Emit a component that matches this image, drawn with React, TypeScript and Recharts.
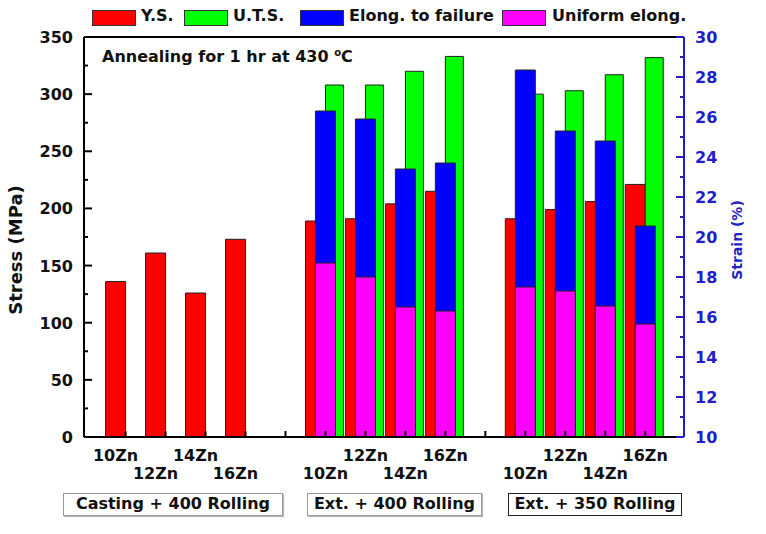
import { ComposedChart, Bar, XAxis, YAxis, ReferenceLine } from "recharts";

// x positions of the bars (5 and 10 are the empty gaps between groups)
const positions = [1, 2, 3, 4, 6, 7, 8, 9, 11, 12, 13, 14];
const alloys = [
  "10Zn", "12Zn", "14Zn", "16Zn",
  "10Zn", "12Zn", "14Zn", "16Zn",
  "10Zn", "12Zn", "14Zn", "16Zn"
];
const processes = ["Casting + 400 Rolling", "Ext. + 400 Rolling", "Ext. + 350 Rolling"];

// stress (MPa)
const yieldStress = [136, 161, 126, 173, 189, 191, 204, 215, 191, 199, 206, 221];
const tensileStress = [null, null, null, null, 308, 308, 320, 333, 300, 303, 317, 332];
// strain (%)
const elongFailure = [null, null, null, null, 26.3, 25.9, 23.4, 23.7, 28.35, 25.3, 24.8, 20.55];
const uniformElong = [null, null, null, null, 18.7, 18.0, 16.5, 16.3, 17.5, 17.3, 16.55, 15.65];

const xTicks = [1, 2, 3, 4, 5, 6, 7, 8, 9, 10, 11, 12, 13, 14];
const stressTicks = [0, 25, 50, 75, 100, 125, 150, 175, 200, 225, 250, 275, 300, 325, 350];
const strainTicks = [10, 11, 12, 13, 14, 15, 16, 17, 18, 19, 20, 21, 22, 23, 24, 25, 26, 27, 28, 29, 30];

const seriesNames = ["Y.S.", "U.T.S.", "Elong. to failure", "Uniform elong."];
const COLORS = ["#ff0000", "#00ff00", "#0000ff", "#ff00ff"];

const FONT = "'DejaVu Sans', sans-serif";
const BLUE = "#2020c4";

const rows = positions.map((pos, i) => ({
  pos,
  ys: yieldStress[i],
  uts: tensileStress[i],
  ef: elongFailure[i],
  ue: uniformElong[i]
}));

function XTick({ x, y, payload }: any) {
  const i = positions.indexOf(payload.value);
  let label = null;
  if (i >= 0) {
    const group = Math.floor(i / 4);
    const k = i % 4;
    const row = group === 0 ? k % 2 : 1 - (k % 2);
    const dx = group === 0 ? -10 : 0;
    label = (
      <text
        x={x + dx}
        y={y + (row === 0 ? 24 : 42)}
        textAnchor="middle"
        fontFamily={FONT}
        fontWeight="bold"
        fontSize={16}
        fill="#111"
      >
        {alloys[i]}
      </text>
    );
  }
  return (
    <g>
      <line x1={x} x2={x} y1={y} y2={y - 6} stroke="#000" strokeWidth={2} />
      {label}
    </g>
  );
}

function StressTick({ x, y, payload }: any) {
  const major = payload.value % 50 === 0;
  return (
    <g>
      <line x1={x} x2={x + (major ? 8 : 4)} y1={y} y2={y} stroke="#000" strokeWidth={2} />
      {major && (
        <text x={x - 11} y={y + 6} textAnchor="end" fontFamily={FONT} fontWeight="bold" fontSize={16} fill="#111">
          {payload.value}
        </text>
      )}
    </g>
  );
}

function StrainTick({ x, y, payload }: any) {
  const major = payload.value % 2 === 0;
  return (
    <g>
      <line x1={x} x2={x - (major ? 8 : 4)} y1={y} y2={y} stroke={BLUE} strokeWidth={2} />
      {major && (
        <text x={x + 11} y={y + 6} textAnchor="start" fontFamily={FONT} fontWeight="bold" fontSize={16} fill={BLUE}>
          {payload.value}
        </text>
      )}
    </g>
  );
}

const legendPos = [
  { swatch: 92, text: 141 },
  { swatch: 184, text: 233 },
  { swatch: 300, text: 349 },
  { swatch: 502, text: 552 }
];

const boxes = [
  { left: 63, width: 220, border: "#999" },
  { left: 307, width: 175, border: "#999" },
  { left: 508, width: 174, border: "#222" }
];

export default function App() {
  return (
    <div style={{ position: "absolute", left: 0, top: 0, width: 766, height: 534, background: "#fff", fontFamily: FONT }}>
      <ComposedChart
        width={766}
        height={534}
        data={rows}
        margin={{ top: 37, right: 42, bottom: 67, left: 24 }}
      >
        <XAxis
          xAxisId="main"
          type="number"
          dataKey="pos"
          domain={[-0.04, 14.97]}
          allowDataOverflow
          ticks={xTicks}
          interval={0}
          height={30}
          tickSize={0}
          tickMargin={0}
          tick={<XTick />}
          axisLine={{ stroke: "#000", strokeWidth: 2 }}
          tickLine={false}
        />
        <XAxis xAxisId="ys" type="number" dataKey="pos" domain={[0.21, 15.22]} allowDataOverflow hide height={0} />
        <XAxis xAxisId="uts" type="number" dataKey="pos" domain={[-0.265, 14.745]} allowDataOverflow hide height={0} />
        <XAxis xAxisId="el" type="number" dataKey="pos" domain={[-0.04, 14.97]} allowDataOverflow hide height={0} />
        <XAxis xAxisId="ue" type="number" dataKey="pos" domain={[-0.04, 14.97]} allowDataOverflow hide height={0} />

        <YAxis
          yAxisId="stress"
          domain={[0, 350]}
          ticks={stressTicks}
          interval={0}
          width={60}
          tickSize={0}
          tickMargin={0}
          tick={<StressTick />}
          tickLine={false}
          axisLine={{ stroke: "#000", strokeWidth: 2 }}
        />
        <YAxis
          yAxisId="strain"
          orientation="right"
          domain={[10, 30]}
          ticks={strainTicks}
          interval={0}
          width={40}
          tickSize={0}
          tickMargin={0}
          tick={<StrainTick />}
          tickLine={false}
          axisLine={{ stroke: BLUE, strokeWidth: 2 }}
        />

        <ReferenceLine xAxisId="main" yAxisId="stress" y={350} stroke="#000" strokeWidth={2} />

        <Bar xAxisId="ys" yAxisId="stress" dataKey="ys" name={seriesNames[0]} fill={COLORS[0]} stroke="#222" strokeWidth={1} barSize={20} isAnimationActive={false} />
        <Bar xAxisId="uts" yAxisId="stress" dataKey="uts" name={seriesNames[1]} fill={COLORS[1]} stroke="#222" strokeWidth={1} barSize={18} isAnimationActive={false} />
        <Bar xAxisId="el" yAxisId="strain" dataKey="ef" name={seriesNames[2]} fill={COLORS[2]} stroke="#222" strokeWidth={1} barSize={20} isAnimationActive={false} />
        <Bar xAxisId="ue" yAxisId="strain" dataKey="ue" name={seriesNames[3]} fill={COLORS[3]} stroke="#222" strokeWidth={1} barSize={20} isAnimationActive={false} />
      </ComposedChart>

      {/* legend */}
      {seriesNames.map((name, i) => (
        <div key={name}>
          <div
            style={{
              position: "absolute",
              left: legendPos[i].swatch,
              top: 10,
              width: 42,
              height: 14,
              background: COLORS[i],
              border: "1px solid #333"
            }}
          />
          <div
            style={{
              position: "absolute",
              left: legendPos[i].text,
              top: 6,
              fontSize: 16,
              fontWeight: "bold",
              color: "#111",
              whiteSpace: "nowrap"
            }}
          >
            {name}
          </div>
        </div>
      ))}

      {/* annotation */}
      <div style={{ position: "absolute", left: 102, top: 47, fontSize: 16, fontWeight: "bold", color: "#111", whiteSpace: "nowrap" }}>
        Annealing for 1 hr at 430 <sup style={{ fontSize: 10 }}>o</sup>C
      </div>

      {/* axis titles */}
      <div
        style={{
          position: "absolute",
          left: 16 - 100,
          top: 250 - 12,
          width: 200,
          height: 24,
          lineHeight: "24px",
          textAlign: "center",
          transform: "rotate(-90deg)",
          fontSize: 18,
          fontWeight: "bold",
          color: "#111"
        }}
      >
        Stress (MPa)
      </div>
      <div
        style={{
          position: "absolute",
          left: 737 - 100,
          top: 240 - 10,
          width: 200,
          height: 20,
          lineHeight: "20px",
          textAlign: "center",
          transform: "rotate(-90deg)",
          fontSize: 14,
          fontWeight: "bold",
          color: BLUE
        }}
      >
        Strain (%)
      </div>

      {/* process boxes */}
      {processes.map((p, i) => (
        <div
          key={p}
          style={{
            position: "absolute",
            left: boxes[i].left,
            top: 493,
            width: boxes[i].width,
            height: 23,
            boxSizing: "border-box",
            border: `1.5px solid ${boxes[i].border}`,
            boxShadow: i < 2 ? "1px 1px 1px #bbb" : "none",
            fontSize: 16,
            fontWeight: "bold",
            color: "#111",
            textAlign: "center",
            lineHeight: "20px",
            whiteSpace: "nowrap"
          }}
        >
          {p}
        </div>
      ))}
    </div>
  );
}
